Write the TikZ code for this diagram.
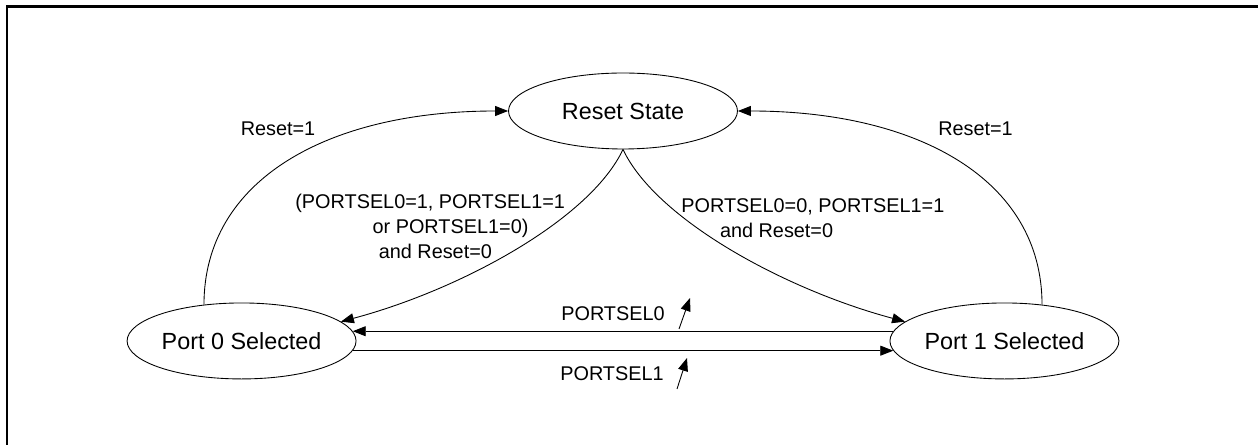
\documentclass[tikz,border=0pt]{standalone}
\usepackage{fontspec}
\setmainfont{Liberation Sans}
\usetikzlibrary{shapes,arrows.meta,positioning}

\begin{document}
\begin{tikzpicture}[
    x=0.02cm, y=-0.02cm,
    node distance=2cm, on grid,
    state/.style={ellipse, draw, line width=0.5pt, minimum width=4.58cm, minimum height=1.52cm, inner sep=0pt, font=\fontsize{13.3}{16}\selectfont},
    cond/.style={inner sep=0pt, font=\fontsize{11.3}{14.2}\selectfont},
    arrow/.style={-{Triangle[length=2.6mm, width=2mm]}, line width=0.5pt},
    frame/.style={line width=1.2pt}
]
    \useasboundingbox (0,0) rectangle (1258,445);
    \draw[frame] (1258,6.5) -- (7,6.5) -- (7,445);

    \node[state] (reset) at (623,111) {Reset State};
    \node[state, below left=4.6cm and 7.63cm of reset] (port0) {Port 0 Selected};
    \node[state, below right=4.6cm and 7.63cm of reset] (port1) {Port 1 Selected};

    % transitions back to reset
    \draw[arrow] (port0.136) .. controls +(0,-125) and +(-180,0) .. (reset.west);
    \draw[arrow] (port1.44) .. controls +(0,-125) and +(180,0) .. (reset.east);
    \node[cond] (resetzero) at (278,128.5) {Reset=1};
    \node[cond] (resetone) at (975.5,128.5) {Reset=1};

    % transitions out of reset
    \draw[arrow] (reset.south) .. controls +(-33,70) and +(120,-32) .. (port0.11);
    \draw[arrow] (reset.south) .. controls +(33,70) and +(-120,-32) .. (port1.169);
    \node[cond, align=left, anchor=north west] (condzero) at (295,194)
        {(PORTSEL0=1, PORTSEL1=1\\\hspace*{44pt}or PORTSEL1=0)\\\hspace*{47.5pt}and Reset=0};
    \node[cond, align=left, anchor=north west] (condone) at (681,198)
        {PORTSEL0=0, PORTSEL1=1\\\hspace*{22pt}and Reset=0};

    % port switching
    \draw[arrow] (port1.175) -- (port0.5);
    \draw[arrow] (port0.-5) -- (port1.185);
    \node[cond] (sel0) at (613,314) {PORTSEL0};
    \node[cond] (sel1) at (612,374) {PORTSEL1};
    \coordinate (sel0tail) at (679,329);
    \coordinate (sel0head) at (690,298);
    \coordinate (sel1tail) at (677,389);
    \coordinate (sel1head) at (687,358);
    \draw[arrow] (sel0tail) -- (sel0head);
    \draw[arrow] (sel1tail) -- (sel1head);
\end{tikzpicture}
\end{document}
